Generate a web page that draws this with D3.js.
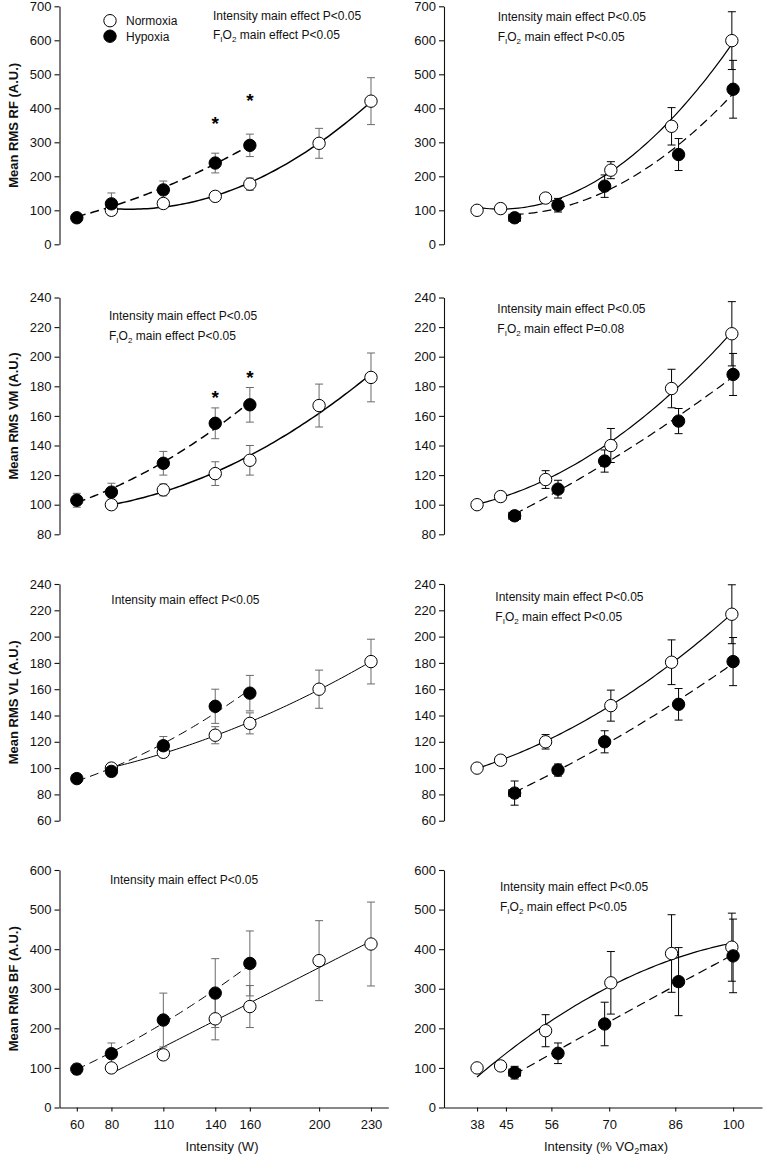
<!DOCTYPE html>
<html><head><meta charset="utf-8">
<script src="https://cdn.jsdelivr.net/npm/d3@7"></script>
<style>body{margin:0;background:#fff;} svg{display:block;font-family:"Liberation Sans",Arial,sans-serif;}</style>
</head><body><svg id="c" width="776" height="1158"></svg>
<script>
// ---------- DATA ----------
const wattNorm = [80, 110, 140, 160, 200, 230];
const wattHyp  = [60, 80, 110, 140, 160];
const vo2Norm  = [38, 43.7, 54.6, 70.4, 85.1, 99.7];
const vo2Hyp   = [47.1, 57.6, 68.9, 86.8, 100];
const vo2HypXSE = [1.4, 0, 0, 0, 0];

const wattTicks = [60, 80, 110, 140, 160, 200, 230];
const vo2Ticks  = [38, 45, 56, 70, 86, 100];
const rfTicks = [0, 100, 200, 300, 400, 500, 600, 700];
const vmTicks = [80, 100, 120, 140, 160, 180, 200, 220, 240];
const vlTicks = [60, 80, 100, 120, 140, 160, 180, 200, 220, 240];
const bfTicks = [0, 100, 200, 300, 400, 500, 600];

// RF
const rfWattNorm   = [100, 120, 141, 177, 297, 421];
const rfWattNormSE = [10, 8, 13, 18, 44, 69];
const rfWattHyp    = [78, 119, 160, 239, 291];
const rfWattHypSE  = [6, 32, 26, 29, 33];
const rfVo2Norm    = [100, 105, 136, 218, 347, 599];
const rfVo2NormSE  = [0, 3, 8, 25, 55, 85];
const rfVo2Hyp     = [78, 115, 171, 264, 456];
const rfVo2HypSE   = [6, 20, 33, 47, 85];
// VM
const vmWattNorm   = [100, 110, 121, 130, 167, 186];
const vmWattNormSE = [0, 4, 8, 10, 14.5, 16.5];
const vmWattHyp    = [103, 108.5, 128, 155, 167.5];
const vmWattHypSE  = [4.7, 6, 8, 10.4, 11.7];
const vmVo2Norm    = [100, 105.5, 117, 140, 178.5, 215.5];
const vmVo2NormSE  = [0, 1.5, 6, 11.5, 13, 21.7];
const vmVo2Hyp     = [92.5, 110.5, 129.5, 156.5, 188];
const vmVo2HypSE   = [3, 6, 7.5, 8.5, 14.2];
// VL
const vlWattNorm   = [100, 112, 125, 134, 160, 181];
const vlWattNormSE = [0, 3, 6.5, 8, 14.5, 17];
const vlWattHyp    = [92, 97.5, 117, 147, 157];
const vlWattHypSE  = [3.5, 4, 7, 13, 13.5];
const vlVo2Norm    = [100, 106, 120, 147.5, 180.5, 217];
const vlVo2NormSE  = [0, 2, 5.5, 11.8, 17, 22.4];
const vlVo2Hyp     = [81, 98.5, 120, 148.5, 181];
const vlVo2HypSE   = [9.2, 4.6, 8.4, 12, 18.3];
// BF
const bfWattNorm   = [100, 133, 224, 255, 371, 413];
const bfWattNormSE = [0, 12, 53, 53, 101, 106];
const bfWattHyp    = [97, 136, 221, 289, 364];
const bfWattHypSE  = [13, 27, 68, 87, 82];
const bfVo2Norm    = [100, 105, 194, 315, 389, 405];
const bfVo2NormSE  = [0, 0, 40.5, 79, 98, 86];
const bfVo2Hyp     = [88, 137, 211, 318, 383];
const bfVo2HypSE   = [16, 26, 55, 86, 93];

const seriesNames = ["Normoxia", "Hypoxia"];
const noteIntensity = "Intensity main effect P<0.05";
const fio2P = ["P<0.05", "P<0.05", "P<0.05", "P=0.08", "P<0.05", "P<0.05"];
const yTitles = ["Mean RMS RF (A.U.)", "Mean RMS VM (A.U.)", "Mean RMS VL (A.U.)", "Mean RMS BF (A.U.)"];
const xTitleW = "Intensity (W)";

// ---------- LAYOUT ----------
const rows = [
  {top: 6.3, bottom: 244.3, domain: [0, 700], ticks: rfTicks},
  {top: 297.5, bottom: 534.3, domain: [80, 240], ticks: vmTicks},
  {top: 584, bottom: 820.7, domain: [60, 240], ticks: vlTicks},
  {top: 870, bottom: 1107.5, domain: [0, 600], ticks: bfTicks}
];
const sides = {
  L: {domain: [50, 240], range: [59.5, 388.3], ticks: wattTicks, xn: wattNorm, xh: wattHyp, xhse: null, bar: "#6a6a6a", tcx: 222},
  R: {domain: [30, 107], range: [444, 762], ticks: vo2Ticks, xn: vo2Norm, xh: vo2Hyp, xhse: vo2HypXSE, bar: "#000", tcx: 606}
};

const panels = [
  {row: 0, side: "L", n: rfWattNorm, nse: rfWattNormSE, h: rfWattHyp, hse: rfWattHypSE, nfit: 2, hfit: 2, lw: 1.5,
   notes: [{x: 213, y: 19.6, t: "int"}, {x: 213, y: 39, t: "fio2", k: 0}], stars: [[140, 370], [160, 437]], legend: true},
  {row: 0, side: "R", n: rfVo2Norm, nse: rfVo2NormSE, h: rfVo2Hyp, hse: rfVo2HypSE, nfit: 2, hfit: 2, lw: 1.2,
   notes: [{x: 497.7, y: 21.3, t: "int"}, {x: 497.7, y: 41, t: "fio2", k: 1}]},
  {row: 1, side: "L", n: vmWattNorm, nse: vmWattNormSE, h: vmWattHyp, hse: vmWattHypSE, nfit: 2, hfit: 2, lw: 1.5,
   notes: [{x: 109, y: 320.3, t: "int"}, {x: 109, y: 340.3, t: "fio2", k: 2}], stars: [[140, 175.5], [160, 189]]},
  {row: 1, side: "R", n: vmVo2Norm, nse: vmVo2NormSE, h: vmVo2Hyp, hse: vmVo2HypSE, nfit: 2, hfit: 2, lw: 1.2,
   notes: [{x: 497.3, y: 312.6, t: "int"}, {x: 497.3, y: 332.6, t: "fio2", k: 3}]},
  {row: 2, side: "L", n: vlWattNorm, nse: vlWattNormSE, h: vlWattHyp, hse: vlWattHypSE, nfit: 2, hfit: 2, lw: 1,
   notes: [{x: 111.3, y: 603.6, t: "int"}]},
  {row: 2, side: "R", n: vlVo2Norm, nse: vlVo2NormSE, h: vlVo2Hyp, hse: vlVo2HypSE, nfit: 2, hfit: 2, lw: 1.2,
   notes: [{x: 495.3, y: 601.3, t: "int"}, {x: 495.3, y: 621.3, t: "fio2", k: 4}]},
  {row: 3, side: "L", n: bfWattNorm, nse: bfWattNormSE, h: bfWattHyp, hse: bfWattHypSE, nfit: 1, hfit: 2, lw: 1,
   notes: [{x: 110, y: 883.6, t: "int"}]},
  {row: 3, side: "R", n: bfVo2Norm, nse: bfVo2NormSE, h: bfVo2Hyp, hse: bfVo2HypSE, nfit: 2, hfit: 2, lw: 1.2,
   notes: [{x: 500, y: 891, t: "int"}, {x: 500, y: 911, t: "fio2", k: 5}]}
];

// least-squares polynomial regression of the plotted data
function polyfit(xs, ys, deg) {
  const m = d3.mean(xs), n = deg + 1;
  const M = d3.range(n).map(() => new Array(n + 1).fill(0));
  xs.forEach((x, k) => {
    const t = x - m;
    for (let i = 0; i < n; i++) {
      for (let j = 0; j < n; j++) M[i][j] += Math.pow(t, i + j);
      M[i][n] += ys[k] * Math.pow(t, i);
    }
  });
  for (let i = 0; i < n; i++) {
    let p = i;
    for (let r = i + 1; r < n; r++) if (Math.abs(M[r][i]) > Math.abs(M[p][i])) p = r;
    [M[i], M[p]] = [M[p], M[i]];
    for (let r = 0; r < n; r++) {
      if (r === i) continue;
      const f = M[r][i] / M[i][i];
      for (let c = i; c <= n; c++) M[r][c] -= f * M[i][c];
    }
  }
  const coef = M.map((row, i) => row[n] / row[i]);
  return x => coef.reduce((s, c, i) => s + c * Math.pow(x - m, i), 0);
}

const svg = d3.select("#c");
const R = 6.2, CAP = 4;

function fio2Text(sel, p) {
  sel.append("tspan").text("F");
  sel.append("tspan").attr("font-size", 8).attr("dy", 3).text("I");
  sel.append("tspan").attr("dy", -3).text("O");
  sel.append("tspan").attr("font-size", 8).attr("dy", 3).text("2");
  sel.append("tspan").attr("dy", -3).text(" main effect " + p);
}

panels.forEach(p => {
  const rw = rows[p.row], sd = sides[p.side];
  const x = d3.scaleLinear().domain(sd.domain).range(sd.range);
  const y = d3.scaleLinear().domain(rw.domain).range([rw.bottom, rw.top]);
  const g = svg.append("g");

  // y axis
  const ya = g.append("g").attr("transform", `translate(${sd.range[0]},0)`)
    .call(d3.axisLeft(y).tickValues(rw.ticks).tickSize(5).tickPadding(3).tickSizeOuter(0));
  ya.attr("font-family", null).attr("font-size", null);
  ya.selectAll("text").attr("font-size", 13).attr("fill", "#111");
  ya.selectAll("line,path").attr("stroke", "#111").attr("stroke-width", 1.1);

  if (p.row === 3) {
    const xa = g.append("g").attr("transform", `translate(0,${rw.bottom})`)
      .call(d3.axisBottom(x).tickValues(sd.ticks).tickSize(4).tickPadding(8).tickSizeOuter(0));
    xa.attr("font-family", null).attr("font-size", null);
    xa.selectAll("text").attr("font-size", 13).attr("fill", "#111");
    xa.selectAll("line,path").attr("stroke", "#111").attr("stroke-width", 1.1);
    const t = g.append("text").attr("x", sd.tcx).attr("y", 1151).attr("text-anchor", "middle")
      .attr("font-size", 13).attr("fill", "#111");
    if (p.side === "L") t.text(xTitleW);
    else {
      t.append("tspan").text("Intensity (% VO");
      t.append("tspan").attr("font-size", 9).attr("dy", 3).text("2");
      t.append("tspan").attr("dy", -3).text("max)");
    }
  }
  if (p.side === "L") {
    g.append("text").attr("transform", `translate(18,${(rw.top + rw.bottom) / 2}) rotate(-90)`)
      .attr("text-anchor", "middle").attr("font-size", 13).attr("font-weight", "bold").attr("fill", "#111")
      .text(yTitles[p.row]);
  }

  // fitted regression curves
  const series = [
    {xs: sd.xn, ys: p.n, se: p.nse, xse: null, deg: p.nfit, fill: "#fff", dash: null},
    {xs: sd.xh, ys: p.h, se: p.hse, xse: sd.xhse, deg: p.hfit, fill: "#000", dash: "9,5"}
  ];
  const line = d3.line().x(d => x(d[0])).y(d => y(d[1]));
  series.forEach(s => {
    const f = polyfit(s.xs, s.ys, s.deg);
    const x0 = d3.min(s.xs), x1 = d3.max(s.xs);
    const pts = d3.range(81).map(i => { const xv = x0 + (x1 - x0) * i / 80; return [xv, f(xv)]; });
    g.append("path").attr("d", line(pts)).attr("fill", "none").attr("stroke", "#000")
      .attr("stroke-width", p.lw).attr("stroke-dasharray", s.dash);
  });

  // error bars
  series.forEach(s => {
    s.ys.forEach((v, i) => {
      const cx = x(s.xs[i]);
      const e = s.se[i];
      if (e > 0) {
        const yt = y(v + e), yb = y(v - e);
        g.append("line").attr("x1", cx).attr("x2", cx).attr("y1", yt).attr("y2", yb).attr("stroke", sd.bar).attr("stroke-width", 1);
        [yt, yb].forEach(yy => g.append("line").attr("x1", cx - CAP).attr("x2", cx + CAP).attr("y1", yy).attr("y2", yy).attr("stroke", sd.bar).attr("stroke-width", 1));
      }
      if (s.xse && s.xse[i] > 0) {
        const xl = x(s.xs[i] - s.xse[i]), xr = x(s.xs[i] + s.xse[i]), cy = y(v);
        g.append("line").attr("x1", xl).attr("x2", xr).attr("y1", cy).attr("y2", cy).attr("stroke", sd.bar).attr("stroke-width", 1);
        [xl, xr].forEach(xx => g.append("line").attr("x1", xx).attr("x2", xx).attr("y1", cy - CAP).attr("y2", cy + CAP).attr("stroke", sd.bar).attr("stroke-width", 1));
      }
    });
  });

  // markers
  series.forEach(s => {
    g.selectAll(null).data(s.ys).enter().append("circle")
      .attr("cx", (d, i) => x(s.xs[i])).attr("cy", d => y(d)).attr("r", R)
      .attr("fill", s.fill).attr("stroke", "#000").attr("stroke-width", 1);
  });

  // significance stars
  (p.stars || []).forEach(st => {
    g.append("text").attr("x", x(st[0])).attr("y", y(st[1]) + 11).attr("text-anchor", "middle")
      .attr("font-size", 19).attr("font-weight", "bold").text("*");
  });

  // annotations
  p.notes.forEach(nt => {
    const t = g.append("text").attr("x", nt.x).attr("y", nt.y).attr("font-size", 12).attr("fill", "#111");
    if (nt.t === "int") t.text(noteIntensity); else fio2Text(t, fio2P[nt.k]);
  });

  if (p.legend) {
    [{cy: 20.7, fill: "#fff"}, {cy: 36.2, fill: "#000"}].forEach((l, i) => {
      g.append("circle").attr("cx", 110).attr("cy", l.cy).attr("r", R).attr("fill", l.fill).attr("stroke", "#000");
      g.append("text").attr("x", 126).attr("y", l.cy + 4.3).attr("font-size", 12).attr("fill", "#111").text(seriesNames[i]);
    });
  }
});
</script></body></html>
